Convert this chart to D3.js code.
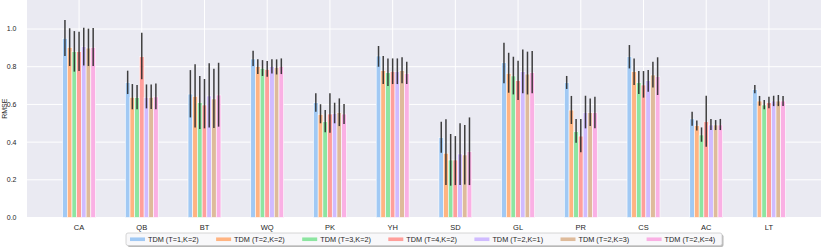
<!DOCTYPE html>
<html>
<head>
<meta charset="utf-8">
<script src="https://cdn.jsdelivr.net/npm/d3@7"></script>
<style>
  body { margin: 0; background: #fff; }
  text { font-family: "Liberation Sans", Arial, sans-serif; fill: #262626; }
</style>
</head>
<body>
<div id="chart"></div>
<script>
const categories = ['CA', 'QB', 'BT', 'WQ', 'PK', 'YH', 'SD', 'GL', 'PR', 'CS', 'AC', 'LT'];
const seriesNames = ['TDM (T=1,K=2)', 'TDM (T=2,K=2)', 'TDM (T=3,K=2)', 'TDM (T=4,K=2)',
  'TDM (T=2,K=1)', 'TDM (T=2,K=3)', 'TDM (T=2,K=4)'];
const yTicks = [0, 0.2, 0.4, 0.6, 0.8, 1.0];

// mean RMSE per category, plus error bar low / high ends
const meanT1K2 = [0.951, 0.717, 0.655, 0.841, 0.609, 0.857, 0.425, 0.821, 0.715, 0.853, 0.523, 0.680];
const lowT1K2  = [0.857, 0.655, 0.531, 0.804, 0.561, 0.800, 0.344, 0.712, 0.682, 0.791, 0.487, 0.659];
const highT1K2 = [1.048, 0.779, 0.782, 0.885, 0.659, 0.910, 0.508, 0.927, 0.751, 0.915, 0.561, 0.703];

const meanT2K2 = [0.903, 0.638, 0.643, 0.800, 0.547, 0.779, 0.341, 0.765, 0.570, 0.774, 0.487, 0.618];
const lowT2K2  = [0.804, 0.574, 0.478, 0.761, 0.500, 0.708, 0.172, 0.662, 0.496, 0.703, 0.461, 0.593];
const highT2K2 = [1.004, 0.708, 0.813, 0.839, 0.601, 0.857, 0.521, 0.874, 0.645, 0.844, 0.514, 0.645];

const meanT3K2 = [0.880, 0.636, 0.609, 0.791, 0.508, 0.768, 0.305, 0.751, 0.455, 0.715, 0.438, 0.597];
const lowT3K2  = [0.774, 0.574, 0.469, 0.751, 0.452, 0.698, 0.169, 0.653, 0.397, 0.655, 0.402, 0.574];
const highT3K2 = [0.989, 0.703, 0.751, 0.835, 0.570, 0.844, 0.443, 0.853, 0.523, 0.777, 0.478, 0.623];

const meanT4K2 = [0.880, 0.853, 0.597, 0.786, 0.549, 0.775, 0.305, 0.726, 0.432, 0.703, 0.508, 0.609];
const lowT4K2  = [0.777, 0.733, 0.473, 0.747, 0.450, 0.708, 0.172, 0.623, 0.346, 0.636, 0.376, 0.579];
const highT4K2 = [0.985, 0.980, 0.735, 0.830, 0.659, 0.844, 0.432, 0.832, 0.522, 0.777, 0.646, 0.641];

const meanT2K1 = [0.906, 0.638, 0.645, 0.800, 0.553, 0.775, 0.337, 0.774, 0.558, 0.726, 0.491, 0.618];
const lowT2K1  = [0.807, 0.579, 0.477, 0.764, 0.500, 0.708, 0.172, 0.659, 0.473, 0.667, 0.464, 0.591];
const highT2K1 = [1.007, 0.706, 0.818, 0.839, 0.609, 0.844, 0.500, 0.892, 0.646, 0.782, 0.523, 0.646];

const meanT2K3 = [0.899, 0.638, 0.629, 0.796, 0.556, 0.779, 0.332, 0.761, 0.556, 0.756, 0.491, 0.618];
const lowT2K3  = [0.804, 0.576, 0.475, 0.759, 0.485, 0.712, 0.175, 0.653, 0.485, 0.690, 0.464, 0.591];
const highT2K3 = [1.002, 0.706, 0.789, 0.839, 0.632, 0.850, 0.491, 0.880, 0.632, 0.827, 0.517, 0.650];

const meanT2K4 = [0.903, 0.640, 0.650, 0.800, 0.549, 0.765, 0.349, 0.769, 0.556, 0.747, 0.491, 0.618];
const lowT2K4  = [0.804, 0.574, 0.482, 0.761, 0.496, 0.708, 0.172, 0.659, 0.473, 0.650, 0.464, 0.591];
const highT2K4 = [1.005, 0.711, 0.821, 0.844, 0.602, 0.827, 0.531, 0.883, 0.641, 0.850, 0.523, 0.645];

const colors = ['#a1c9f4', '#ffb482', '#8de5a1', '#ff9f9b', '#d0bbff', '#debb9b', '#fab0e4'];

const series = [
  [meanT1K2, lowT1K2, highT1K2],
  [meanT2K2, lowT2K2, highT2K2],
  [meanT3K2, lowT3K2, highT3K2],
  [meanT4K2, lowT4K2, highT4K2],
  [meanT2K1, lowT2K1, highT2K1],
  [meanT2K3, lowT2K3, highT2K3],
  [meanT2K4, lowT2K4, highT2K4],
].map(([mean, low, high], s) => ({
  name: seriesNames[s],
  color: colors[s],
  values: categories.map((c, i) => ({ cat: i, s, mean: mean[i], low: low[i], high: high[i] })),
}));

const width = 822;
const height = 248;
const plot = { left: 27, right: 821, top: 0, bottom: 217.5 };
const barW = 0.075;

const x = d3.scaleLinear().domain([-0.83, 11.83]).range([plot.left, plot.right]);
const y = d3.scaleLinear().domain([0, 1.154]).range([plot.bottom, plot.top]);

const svg = d3.select('#chart').append('svg')
  .attr('width', width)
  .attr('height', height);

svg.append('rect')
  .attr('x', plot.left).attr('y', plot.top)
  .attr('width', plot.right - plot.left).attr('height', plot.bottom - plot.top)
  .attr('fill', '#eaeaf2');

// grid
svg.append('g').selectAll('line').data(yTicks).join('line')
  .attr('x1', plot.left).attr('x2', plot.right)
  .attr('y1', d => y(d)).attr('y2', d => y(d))
  .attr('stroke', '#fff').attr('stroke-width', 1);

svg.append('g').selectAll('line').data(categories).join('line')
  .attr('x1', (d, i) => x(i)).attr('x2', (d, i) => x(i))
  .attr('y1', plot.top).attr('y2', plot.bottom)
  .attr('stroke', '#fff').attr('stroke-width', 1);

// axes labels
svg.append('g').selectAll('text').data(yTicks).join('text')
  .attr('x', 16.5).attr('y', d => y(d))
  .attr('dy', '0.35em')
  .attr('text-anchor', 'end')
  .attr('font-size', 7)
  .text(d => d.toFixed(1));

svg.append('g').selectAll('text').data(categories).join('text')
  .attr('x', (d, i) => x(i)).attr('y', 230)
  .attr('text-anchor', 'middle')
  .attr('font-size', 7.5)
  .text(d => d);

svg.append('text')
  .attr('transform', `translate(6.5,${(plot.top + plot.bottom) / 2}) rotate(-90)`)
  .attr('text-anchor', 'middle')
  .attr('font-size', 7)
  .text('RMSE');

// bars
const groups = svg.append('g').selectAll('g').data(series).join('g')
  .attr('fill', d => d.color);

groups.selectAll('rect').data(d => d.values).join('rect')
  .attr('x', d => x(d.cat + (d.s - 3) * barW - barW / 2))
  .attr('width', x(barW) - x(0))
  .attr('y', d => y(d.mean))
  .attr('height', d => y(0) - y(d.mean))
  .attr('stroke', '#fff')
  .attr('stroke-width', 0.6);

// error bars
const errs = svg.append('g').selectAll('g').data(series).join('g');
errs.selectAll('line').data(d => d.values).join('line')
  .attr('x1', d => x(d.cat + (d.s - 3) * barW))
  .attr('x2', d => x(d.cat + (d.s - 3) * barW))
  .attr('y1', d => y(d.low))
  .attr('y2', d => y(d.high))
  .attr('stroke', '#2a2a2a')
  .attr('stroke-opacity', 0.9)
  .attr('stroke-width', 1.5);

// legend
const lg = { x: 126, y: 233, w: 596, h: 12.5, pitch: 86.1 };
const legend = svg.append('g');
legend.append('rect')
  .attr('x', lg.x + 1.5).attr('y', lg.y + 1.5)
  .attr('width', lg.w).attr('height', lg.h)
  .attr('rx', 2)
  .attr('fill', '#b8b8b8');
legend.append('rect')
  .attr('x', lg.x).attr('y', lg.y)
  .attr('width', lg.w).attr('height', lg.h)
  .attr('rx', 2)
  .attr('fill', '#f8f8fa')
  .attr('stroke', '#cccccc')
  .attr('stroke-width', 0.8);

const items = legend.selectAll('g.item').data(series).join('g')
  .attr('class', 'item')
  .attr('transform', (d, i) => `translate(${lg.x + 4 + i * lg.pitch},${lg.y + lg.h / 2})`);
items.append('rect')
  .attr('x', 0).attr('y', -1.8)
  .attr('width', 15).attr('height', 3.6)
  .attr('fill', d => d.color);
items.append('text')
  .attr('x', 18).attr('dy', '0.35em')
  .attr('font-size', 7.3)
  .text(d => d.name);
</script>
</body>
</html>
